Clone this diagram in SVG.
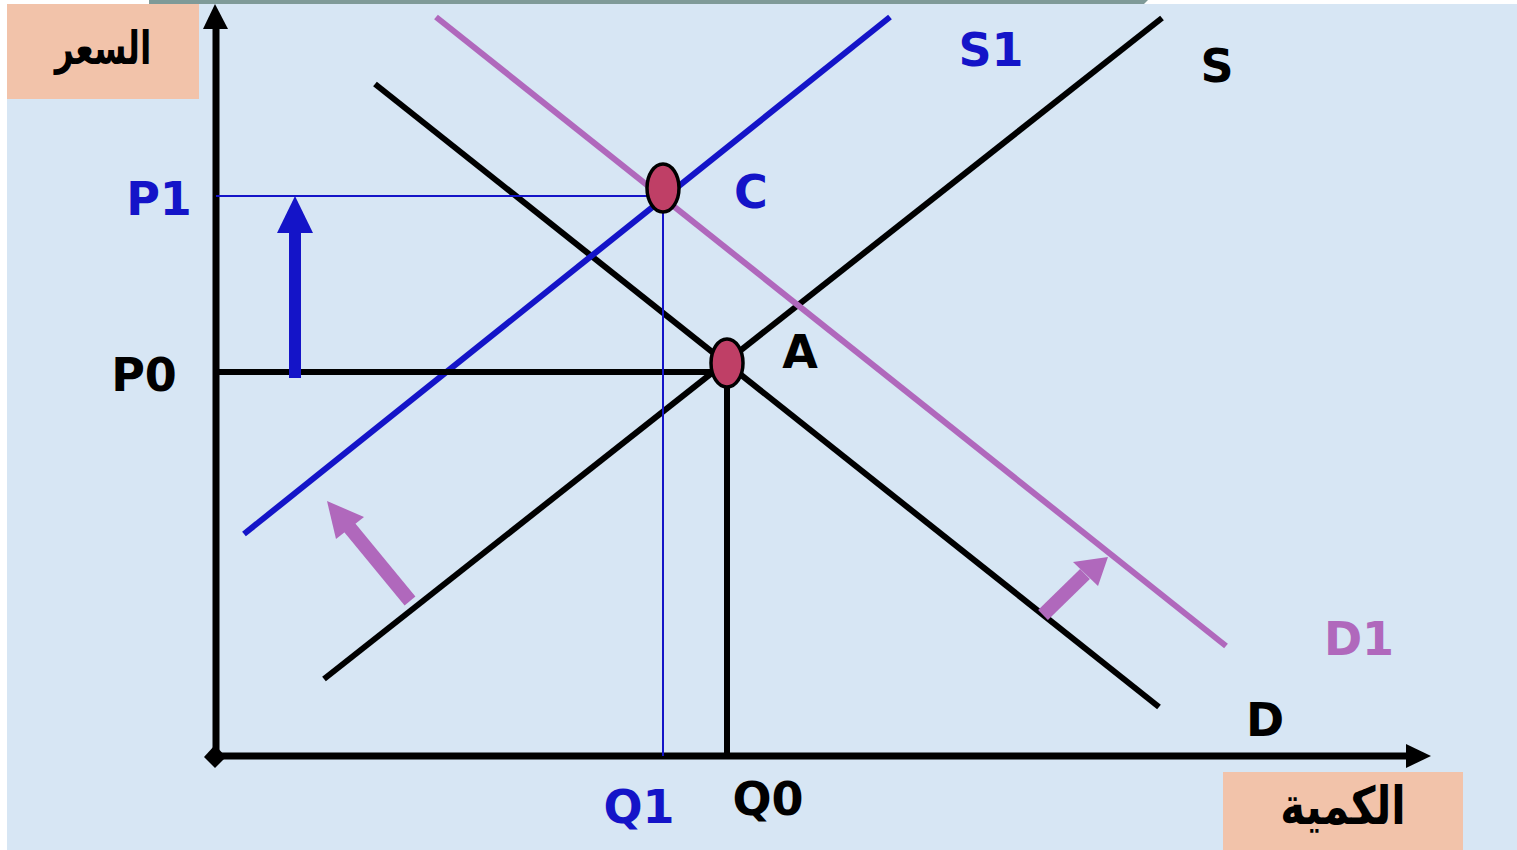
<svg xmlns="http://www.w3.org/2000/svg" width="1517" height="850" viewBox="0 0 1517 850">
<style>
.lbl{font-family:"DejaVu Sans","Liberation Sans",sans-serif;font-weight:bold;font-size:46px}
.ar{font-family:"DejaVu Sans","Liberation Sans",sans-serif;font-weight:bold;fill:#000}
.blk{stroke:#000;stroke-width:6;fill:none}
.blu{stroke:#1414c8;stroke-width:6;fill:none}
.pur{stroke:#b068bc;stroke-width:6;fill:none}
.thin{stroke:#1414c8;stroke-width:2;fill:none}
.pt{fill:#bf3f66;stroke:#000;stroke-width:3.5}
.box{fill:#f2c3aa}
</style>
<rect x="0" y="0" width="1517" height="850" fill="#ffffff"/>
<rect x="7" y="4" width="1510" height="846" fill="#d7e6f4"/>
<polygon points="149,0 1148,0 1144,4 149,4" fill="#7f9a98"/>

<g id="price-label">
<rect class="box" x="7" y="4" width="192" height="95"/>
<text class="ar" font-size="33" text-anchor="middle" direction="rtl" transform="translate(103,64) scale(1,1.4)">السعر</text>
</g>
<g id="quantity-label">
<rect class="box" x="1223" y="772" width="240" height="78"/>
<text class="ar" font-size="40" text-anchor="middle" direction="rtl" transform="translate(1343,824) scale(1.05,1.3)">الكمية</text>
</g>

<g id="axes">
<line x1="216" y1="26" x2="216" y2="757" stroke="#000" stroke-width="7"/>
<polygon points="215,4 203,29 228,29" fill="#000"/>
<line x1="215" y1="756" x2="1410" y2="756" stroke="#000" stroke-width="7"/>
<polygon points="1431,756 1406,744 1406,768" fill="#000"/>
<polygon points="215,745 226,757 215,768 204,757" fill="#000"/>
</g>

<g id="connectors">
<line id="S" class="blk" x1="324" y1="679" x2="1162" y2="18"/>
<line id="D" class="blk" x1="375" y1="84" x2="1159" y2="707"/>
<line id="S1" class="blu" x1="244" y1="534" x2="890" y2="17"/>
<line id="D1" class="pur" x1="436" y1="17" x2="1226" y2="646"/>
<line id="P0-line" class="blk" x1="216" y1="372" x2="727" y2="372"/>
<line id="Q0-line" class="blk" x1="727" y1="372" x2="727" y2="756"/>
<line id="P1-line" class="thin" x1="216" y1="196" x2="663" y2="196"/>
<line id="Q1-line" class="thin" x1="663" y1="196" x2="663" y2="756"/>
<g id="price-arrow">
<rect x="289" y="230" width="12" height="148" fill="#1414c8"/>
<polygon points="295,196 277,233 313,233" fill="#1414c8"/>
</g>
<g id="supply-shift-arrow">
<line x1="410" y1="601" x2="345" y2="522" stroke="#b068bc" stroke-width="14"/>
<polygon points="327,501 336,539 364,517" fill="#b068bc"/>
</g>
<g id="demand-shift-arrow">
<line x1="1043" y1="615" x2="1085" y2="574" stroke="#b068bc" stroke-width="14"/>
<polygon points="1108,557 1073,562 1098,586" fill="#b068bc"/>
</g>
</g>

<g id="point-C">
<ellipse class="pt" cx="663" cy="188" rx="16" ry="24"/>
<text class="lbl" x="751" y="208" text-anchor="middle" fill="#1414c8">C</text>
</g>
<g id="point-A">
<ellipse class="pt" cx="727" cy="363" rx="16" ry="24"/>
<text class="lbl" x="800" y="368" text-anchor="middle" fill="#000">A</text>
</g>

<g id="labels">
<text class="lbl" x="991" y="66" text-anchor="middle" fill="#1414c8">S1</text>
<text class="lbl" x="1217" y="82" text-anchor="middle" fill="#000">S</text>
<text class="lbl" x="1359" y="655" text-anchor="middle" fill="#b068bc">D1</text>
<text class="lbl" x="1265" y="736" text-anchor="middle" fill="#000">D</text>
<text class="lbl" x="159" y="215" text-anchor="middle" fill="#1414c8">P1</text>
<text class="lbl" x="144" y="391" text-anchor="middle" fill="#000">P0</text>
<text class="lbl" x="639" y="823" text-anchor="middle" fill="#1414c8">Q1</text>
<text class="lbl" x="768" y="815" text-anchor="middle" fill="#000">Q0</text>
</g>
</svg>
